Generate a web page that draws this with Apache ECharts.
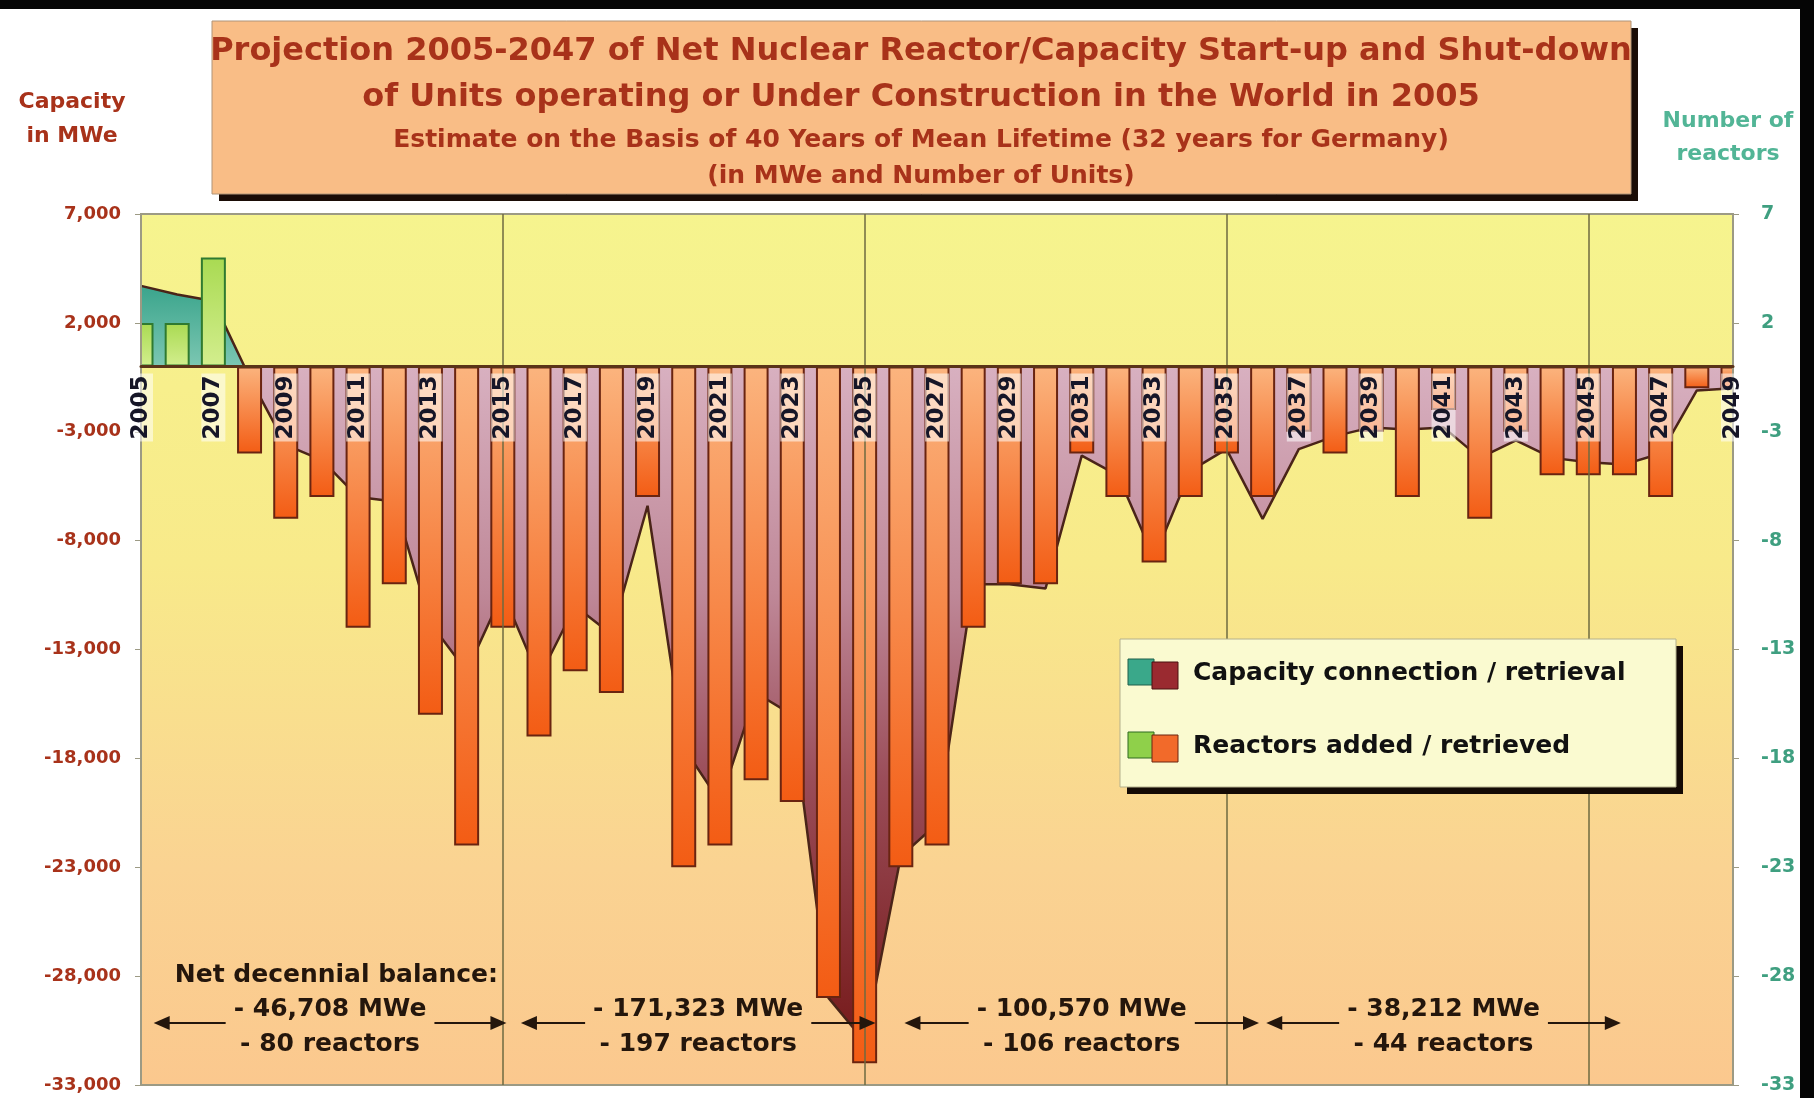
<!DOCTYPE html>
<html>
<head>
<meta charset="utf-8">
<script src="https://cdn.jsdelivr.net/npm/echarts@6/dist/echarts.min.js"></script>
<style>
  html, body { margin: 0; padding: 0; background: #ffffff; }
  #chart { width: 1814px; height: 1098px; }
</style>
</head>
<body>
<div id="chart"></div>
<script>
// years on the category axis
const years = [
  "2005", "2006", "2007", "2008", "2009", "2010", "2011", "2012", "2013", "2014",
  "2015", "2016", "2017", "2018", "2019", "2020", "2021", "2022", "2023", "2024",
  "2025", "2026", "2027", "2028", "2029", "2030", "2031", "2032", "2033", "2034",
  "2035", "2036", "2037", "2038", "2039", "2040", "2041", "2042", "2043", "2044",
  "2045", "2046", "2047", "2048", "2049"
];

// net reactors added / retrieved per year (right axis)
const reactors = [
  2, 2, 5, -4, -7, -6, -12, -10, -16, -22,
  -12, -17, -14, -15, -6, -23, -22, -19, -20, -29,
  -32, -23, -22, -12, -10, -10, -4, -6, -9, -6,
  -4, -6, -3, -4, -3, -6, -2, -7, -3, -5,
  -5, -5, -6, -1, -1
];

// net capacity connected / retrieved per year, MWe (left axis)
const capacity = [
  3700, 3300, 3000, -500, -3600, -4300, -6000, -6200, -11800, -14000,
  -10400, -14300, -11000, -12300, -6400, -17500, -20000, -15000, -16000, -29000,
  -31000, -22500, -21000, -10000, -10000, -10200, -4100, -5000, -8800, -4800,
  -3800, -7000, -3800, -3200, -2800, -2900, -2800, -4200, -3400, -4200,
  -4400, -4500, -4000, -1100, -1000
];

const capTicks = { min: -33000, max: 7000, step: 5000 };
const unitTicks = { min: -33, max: 7, step: 5 };

// decennial balances shown under the chart
const decadeMWe = ["- 46,708 MWe", "- 171,323 MWe", "- 100,570 MWe", "- 38,212 MWe"];
const decadeUnits = ["- 80 reactors", "- 197 reactors", "- 106 reactors", "- 44 reactors"];
// arrow extents, in category-index units
const decadeSpan = [[0.35, 10.1], [10.5, 20.3], [21.1, 30.9], [31.1, 40.9]];
const ARROW_LEVEL = -30150;

const FONT = "DejaVu Sans";
const titleRed = "#a8321a";
const teal = "#3f9f80";
const BAR_W = 25;

const chart = echarts.init(document.getElementById("chart"), null, { renderer: "canvas" });

const capMax = Math.max(0, ...capacity);
const capMin = Math.min(0, ...capacity);
const zeroAt = capMax / (capMax - capMin);

const areaFill = new echarts.graphic.LinearGradient(0, 0, 0, 1, [
  { offset: 0, color: "#3aa48c" },
  { offset: zeroAt, color: "#7cc7b2" },
  { offset: zeroAt + 0.002, color: "#d8b0c0" },
  { offset: zeroAt + 0.3, color: "#bf8898" },
  { offset: zeroAt + 0.55, color: "#9a4c58" },
  { offset: 1, color: "#761a1a" }
]);

const orangeBar = {
  color: new echarts.graphic.LinearGradient(0, 0, 0, 1, [
    { offset: 0, color: "#fbb47e" },
    { offset: 1, color: "#f35c14" }
  ]),
  borderColor: "#6a2410",
  borderWidth: 2
};
const greenBar = {
  color: new echarts.graphic.LinearGradient(0, 0, 0, 1, [
    { offset: 0, color: "#a9da52" },
    { offset: 1, color: "#d3ee8e" }
  ]),
  borderColor: "#2f7a30",
  borderWidth: 2
};

const plotBg = new echarts.graphic.LinearGradient(0, 0, 0, 1, [
  { offset: 0, color: "#f6f48e" },
  { offset: 0.4, color: "#f8ea8a" },
  { offset: 0.75, color: "#fad392" },
  { offset: 1, color: "#fbc88e" }
]);

const option = {
  animation: false,
  backgroundColor: "#ffffff",
  grid: {
    left: 141, right: 81, top: 214, bottom: 13,
    containLabel: false,
    outerBoundsMode: "none",
    show: true,
    backgroundColor: plotBg,
    borderColor: "#9c9a84",
    borderWidth: 2
  },
  xAxis: {
    type: "category",
    data: years,
    boundaryGap: false,
    z: 10,
    offset: 0,
    axisLine: { onZero: false, lineStyle: { color: "#5a3418", width: 3 } },
    axisTick: { show: false },
    axisLabel: {
      interval: 1,
      rotate: 90,
      margin: 7,
      color: "#161628",
      fontFamily: FONT,
      fontWeight: "bold",
      fontSize: 23,
      backgroundColor: "rgba(255,255,255,0.55)",
      padding: [1, 2, 0, 2]
    },
    splitLine: {
      show: true,
      interval: (i) => i > 0 && i % 10 === 0,
      lineStyle: { color: "#6e6a40", width: 1.5 }
    }
  },
  yAxis: [
    {
      type: "value",
      position: "left",
      z: 8,
      min: capTicks.min, max: capTicks.max, interval: capTicks.step,
      axisLine: { show: true, onZero: false, lineStyle: { color: "#9c9a84", width: 2 } },
      axisTick: { show: true, length: 6, lineStyle: { color: "#9c9a84" } },
      splitLine: { show: false },
      axisLabel: {
        margin: 20,
        color: titleRed,
        fontFamily: FONT,
        fontWeight: "bold",
        fontSize: 18,
        formatter: (v) => v.toLocaleString("en-US")
      }
    },
    {
      type: "value",
      position: "right",
      z: 8,
      min: unitTicks.min, max: unitTicks.max, interval: unitTicks.step,
      axisLine: { show: true, onZero: false, lineStyle: { color: "#9c9a84", width: 2 } },
      axisTick: { show: true, length: 6, lineStyle: { color: "#9c9a84" } },
      splitLine: { show: false },
      axisLabel: {
        margin: 28,
        color: teal,
        fontFamily: FONT,
        fontWeight: "bold",
        fontSize: 19
      }
    }
  ],
  series: [
    {
      name: "Capacity connection / retrieval",
      type: "line",
      yAxisIndex: 0,
      data: capacity,
      symbol: "none",
      z: 2,
      lineStyle: { color: "#4a2418", width: 2.5 },
      areaStyle: { color: areaFill, opacity: 1 }
    },
    {
      name: "Reactors added / retrieved",
      type: "bar",
      yAxisIndex: 1,
      barWidth: BAR_W,
      clip: true,
      z: 3,
      data: reactors.map((v) => ({ value: v, itemStyle: v >= 0 ? greenBar : orangeBar }))
    }
  ],
  graphic: [
    // photo frame strips
    { type: "rect", shape: { x: 0, y: 0, width: 1814, height: 9 }, style: { fill: "#050505" }, z: 50 },
    { type: "rect", shape: { x: 1800, y: 0, width: 14, height: 1098 }, style: { fill: "#050505" }, z: 50 },
    // title box
    { type: "rect", shape: { x: 219, y: 28, width: 1419, height: 173 }, style: { fill: "#1a0c06" }, z: 40 },
    { type: "rect", shape: { x: 212, y: 21, width: 1419, height: 173 },
      style: { fill: "#f9bd86", stroke: "#b09478", lineWidth: 1 }, z: 41 },
    { type: "text", x: 921, y: 52, z: 42, style: { text: "Projection 2005-2047 of Net Nuclear Reactor/Capacity Start-up and Shut-down",
      fill: titleRed, font: `bold 32px "${FONT}"`, align: "center", verticalAlign: "middle" } },
    { type: "text", x: 921, y: 98, z: 42, style: { text: "of Units operating or Under Construction in the World in 2005",
      fill: titleRed, font: `bold 32px "${FONT}"`, align: "center", verticalAlign: "middle" } },
    { type: "text", x: 921, y: 140, z: 42, style: { text: "Estimate on the Basis of 40 Years of Mean Lifetime (32 years for Germany)",
      fill: titleRed, font: `bold 25px "${FONT}"`, align: "center", verticalAlign: "middle" } },
    { type: "text", x: 921, y: 176, z: 42, style: { text: "(in MWe and Number of Units)",
      fill: titleRed, font: `bold 25px "${FONT}"`, align: "center", verticalAlign: "middle" } },
    // axis titles
    { type: "text", x: 72, y: 119, z: 42, style: { text: "Capacity\nin MWe", lineHeight: 34,
      fill: titleRed, font: `bold 22px "${FONT}"`, align: "center", verticalAlign: "middle" } },
    { type: "text", x: 1728, y: 138, z: 42, style: { text: "Number of\nreactors", lineHeight: 33,
      fill: "#52b596", font: `bold 22px "${FONT}"`, align: "center", verticalAlign: "middle" } },
    // legend box
    { type: "rect", shape: { x: 1127, y: 646, width: 556, height: 148 }, style: { fill: "#140a04" }, z: 40 },
    { type: "rect", shape: { x: 1120, y: 639, width: 556, height: 148 },
      style: { fill: "#fafad0", stroke: "#b4b08c", lineWidth: 1 }, z: 41 },
    { type: "rect", shape: { x: 1128, y: 659, width: 26, height: 26 }, style: { fill: "#3aa88a", stroke: "#1f5f4a", lineWidth: 1 }, z: 42 },
    { type: "rect", shape: { x: 1152, y: 662, width: 26, height: 27 }, style: { fill: "#9a2a30", stroke: "#4a1010", lineWidth: 1 }, z: 43 },
    { type: "text", x: 1193, y: 673, z: 42, style: { text: "Capacity connection / retrieval",
      fill: "#111111", font: `bold 25px "${FONT}"`, align: "left", verticalAlign: "middle" } },
    { type: "rect", shape: { x: 1128, y: 732, width: 26, height: 26 }, style: { fill: "#8fd04a", stroke: "#2f6a20", lineWidth: 1 }, z: 42 },
    { type: "rect", shape: { x: 1152, y: 735, width: 26, height: 27 }, style: { fill: "#f26a2a", stroke: "#6a2410", lineWidth: 1 }, z: 43 },
    { type: "text", x: 1193, y: 746, z: 42, style: { text: "Reactors added / retrieved",
      fill: "#111111", font: `bold 25px "${FONT}"`, align: "left", verticalAlign: "middle" } }
  ]
};

chart.setOption(option);

// move the year axis up onto the zero line
const zeroY = chart.convertToPixel({ yAxisIndex: 0 }, 0);
const bottomY = chart.convertToPixel({ yAxisIndex: 0 }, capTicks.min);
chart.setOption({ xAxis: { offset: -(bottomY - zeroY) } });

const x0 = chart.convertToPixel({ xAxisIndex: 0 }, years[0]);
const xN = chart.convertToPixel({ xAxisIndex: 0 }, years[years.length - 1]);
const step = (xN - x0) / (years.length - 1);
const arrowY = chart.convertToPixel({ yAxisIndex: 0 }, ARROW_LEVEL);

const extra = [];

// bars on the first and last year sit on the plot edge: hide the half outside it
[[0, x0 - BAR_W / 2 - 3, x0 - 1], [years.length - 1, xN + 1, xN + BAR_W / 2 + 3]].forEach(([i, l, r]) => {
  const yA = chart.convertToPixel({ yAxisIndex: 1 }, Math.max(0, reactors[i]));
  const yB = chart.convertToPixel({ yAxisIndex: 1 }, Math.min(0, reactors[i]));
  extra.push({ type: "rect", z: 6, shape: { x: l, y: yA - 3, width: r - l, height: yB - yA + 6 },
    style: { fill: "#ffffff" } });
});

// decennial balance arrows, placed through the axes
const measure = document.createElement("canvas").getContext("2d");
const annFont = `bold 25px "${FONT}"`;
measure.font = annFont;

const ink = "#24160c";
extra.push({ type: "text", x: x0 + 5.4 * step, y: arrowY - 47, z: 45,
  style: { text: "Net decennial balance:", fill: ink, font: annFont, align: "center", verticalAlign: "middle" } });

decadeSpan.forEach((span, i) => {
  const a = x0 + span[0] * step;
  const b = x0 + span[1] * step;
  const c = (a + b) / 2;
  const half = measure.measureText(decadeMWe[i]).width / 2 + 8;
  extra.push(
    { type: "line", z: 45, shape: { x1: a + 14, y1: arrowY, x2: c - half, y2: arrowY }, style: { stroke: ink, lineWidth: 2 } },
    { type: "line", z: 45, shape: { x1: c + half, y1: arrowY, x2: b - 14, y2: arrowY }, style: { stroke: ink, lineWidth: 2 } },
    { type: "polygon", z: 45, shape: { points: [[a, arrowY], [a + 16, arrowY - 7], [a + 16, arrowY + 7]] }, style: { fill: ink } },
    { type: "polygon", z: 45, shape: { points: [[b, arrowY], [b - 16, arrowY - 7], [b - 16, arrowY + 7]] }, style: { fill: ink } },
    { type: "text", x: c, y: arrowY - 13, z: 45,
      style: { text: decadeMWe[i], fill: ink, font: annFont, align: "center", verticalAlign: "middle" } },
    { type: "text", x: c, y: arrowY + 22, z: 45,
      style: { text: decadeUnits[i], fill: ink, font: annFont, align: "center", verticalAlign: "middle" } }
  );
});

chart.setOption({ graphic: option.graphic.concat(extra) });
</script>
</body>
</html>
